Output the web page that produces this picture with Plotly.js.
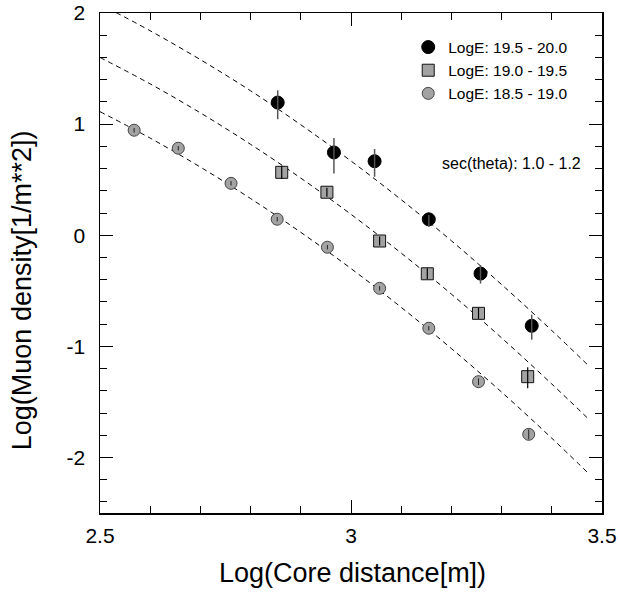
<!DOCTYPE html>
<html>
<head>
<meta charset="utf-8">
<script src="https://cdn.plot.ly/plotly-3.0.1.min.js"></script>
<style>html,body{margin:0;padding:0;background:#fff}#chart{width:618px;height:594px}</style>
</head>
<body>
<div id="chart"></div>
<script>
// LogE 19.5 - 20.0 (black circles)
var hiX = [2.854, 2.966, 3.047, 3.155, 3.258, 3.360];
var hiY = [1.194, 0.745, 0.666, 0.143, -0.345, -0.815];
var hiErrUp = [0.11, 0.13, 0.11, 0.04, 0.075, 0.10];
var hiErrDn = [0.15, 0.19, 0.14, 0.07, 0.09, 0.125];

// LogE 19.0 - 19.5 (gray squares)
var midX = [2.862, 2.952, 3.057, 3.152, 3.254, 3.352];
var midY = [0.566, 0.387, -0.052, -0.347, -0.703, -1.273];
var midErrUp = [0.06, 0.04, 0.04, 0.05, 0.05, 0.085];
var midErrDn = [0.06, 0.04, 0.04, 0.05, 0.05, 0.105];

// LogE 18.5 - 19.0 (gray circles)
var loX = [2.568, 2.656, 2.761, 2.853, 2.953, 3.057, 3.155, 3.254, 3.354];
var loY = [0.945, 0.783, 0.467, 0.144, -0.108, -0.478, -0.837, -1.318, -1.792];
var loErr = [0.02, 0.02, 0.02, 0.02, 0.02, 0.02, 0.02, 0.03, 0.045];

// dashed fit curves
var curveX = [2.5, 2.6, 2.7, 2.8, 2.9, 3.0, 3.1, 3.2, 3.3, 3.4, 3.47];
var curveHi = [2.08, 1.84, 1.58, 1.30, 0.994, 0.668, 0.32, -0.05, -0.444, -0.858, -1.16];
var curveMid = [1.60, 1.362, 1.101, 0.818, 0.514, 0.188, -0.161, -0.53, -0.924, -1.339, -1.64];
var curveLo = [1.112, 0.874, 0.613, 0.33, 0.026, -0.30, -0.649, -1.02, -1.412, -1.827, -2.13];

var legendNames = ["LogE: 19.5 - 20.0", "LogE: 19.0 - 19.5", "LogE: 18.5 - 19.0"];
var xTickVals = [2.5, 3, 3.5];
var xTickText = ["2.5", "3", "3.5"];
var yTickVals = [2, 1, 0, -1, -2];
var yTickText = ["2", "1", "0", "-1", "-2"];
var xTitle = "Log(Core distance[m])";
var yTitle = "Log(Muon density[1/m**2])";
var noteText = "sec(theta): 1.0 - 1.2";

var gray = "#a3a3a3";
var dashLine = {color: "#000", width: 1, dash: "5px,4px"};

function curve(y) {
  return {x: curveX, y: y, mode: "lines", line: Object.assign({shape: "spline"}, dashLine),
          showlegend: false, hoverinfo: "skip"};
}

var traces = [
  curve(curveHi), curve(curveMid), curve(curveLo),
  {x: hiX, y: hiY, mode: "markers", name: legendNames[0],
   marker: {symbol: "circle", size: 13, color: "#000", line: {color: "#000", width: 1}}},
  {x: midX, y: midY, mode: "markers", name: legendNames[1],
   marker: {symbol: "square", size: 12, color: gray, line: {color: "#111", width: 1}}},
  {x: loX, y: loY, mode: "markers", name: legendNames[2],
   marker: {symbol: "circle", size: 12, color: gray, line: {color: "#444", width: 1}}},
  {x: hiX, y: hiY, mode: "markers", showlegend: false, hoverinfo: "skip",
   marker: {size: 1, color: "rgba(0,0,0,0)"},
   error_y: {type: "data", symmetric: false, array: hiErrUp, arrayminus: hiErrDn, width: 0, thickness: 1.5, color: "#555"}},
  {x: midX, y: midY, mode: "markers", showlegend: false, hoverinfo: "skip",
   marker: {size: 1, color: "rgba(0,0,0,0)"},
   error_y: {type: "data", symmetric: false, array: midErrUp, arrayminus: midErrDn, width: 0, thickness: 1.2, color: "#000"}},
  {x: loX, y: loY, mode: "markers", showlegend: false, hoverinfo: "skip",
   marker: {size: 1, color: "rgba(0,0,0,0)"},
   error_y: {type: "data", array: loErr, width: 0, thickness: 1, color: "#222"}}
];

var font = {family: "Liberation Sans, Arial, sans-serif", color: "#000"};

var layout = {
  width: 618, height: 594,
  margin: {l: 100, r: 16, t: 13, b: 81},
  paper_bgcolor: "#fff", plot_bgcolor: "#fff",
  font: Object.assign({size: 16}, font),
  showlegend: true,
  legend: {x: 0.614, y: 0.965, xanchor: "left", yanchor: "top", bgcolor: "rgba(0,0,0,0)",
           font: Object.assign({size: 15.5}, font), tracegroupgap: 0, itemwidth: 30},
  xaxis: {
    range: [2.5, 3.5], tickmode: "array", tickvals: xTickVals, ticktext: xTickText,
    ticks: "inside", ticklen: 13, tickwidth: 1, tickcolor: "#000",
    minor: {dtick: 0.1, tick0: 2.5, ticks: "inside", ticklen: 7, tickwidth: 1, tickcolor: "#000", showgrid: false},
    showline: true, linecolor: "#000", linewidth: 1.5, mirror: "ticks",
    showgrid: false, zeroline: false, ticklabelstandoff: 3,
    tickfont: Object.assign({size: 21}, font)
  },
  yaxis: {
    range: [-2.5, 2], tickmode: "array", tickvals: yTickVals, ticktext: yTickText,
    ticks: "inside", ticklen: 13, tickwidth: 1, tickcolor: "#000",
    minor: {dtick: 0.2, tick0: 0, ticks: "inside", ticklen: 7, tickwidth: 1, tickcolor: "#000", showgrid: false},
    showline: true, linecolor: "#000", linewidth: 1.5, mirror: "ticks",
    showgrid: false, zeroline: false, ticklabelstandoff: 9,
    tickfont: Object.assign({size: 21}, font)
  },
  annotations: [
    {xref: "paper", yref: "paper", x: 0.962, y: 0.70, xanchor: "right", yanchor: "middle",
     text: noteText, showarrow: false, font: Object.assign({size: 16}, font)},
    {xref: "paper", yref: "paper", x: 0.502, y: -0.12, xanchor: "center", yanchor: "middle",
     text: xTitle, showarrow: false, font: Object.assign({size: 27}, font)},
    {xref: "paper", yref: "paper", x: -0.155, y: 0.446, xanchor: "center", yanchor: "middle",
     text: yTitle, textangle: -90, showarrow: false, font: Object.assign({size: 27}, font)}
  ]
};

Plotly.newPlot("chart", traces, layout, {displayModeBar: false, staticPlot: true});
</script>
</body>
</html>
